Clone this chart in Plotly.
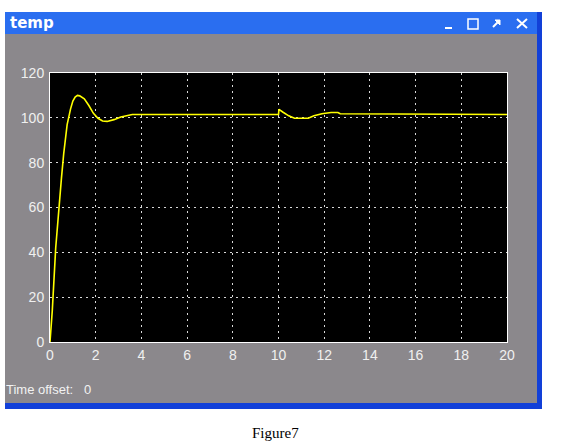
import plotly.graph_objects as go

# ---- data ----
time_s = [0, 0.1, 0.25, 0.4, 0.5, 0.6, 0.75, 0.9, 1.0, 1.1, 1.2, 1.3, 1.5, 1.7, 1.9,
          2.1, 2.3, 2.5, 2.8, 3.1, 3.4, 3.6, 10.0, 10.02, 10.2, 10.45, 10.7, 11.3,
          11.55, 11.9, 12.3, 12.6, 12.7, 13.6, 13.65, 20]
temp = [0, 14, 42, 62, 73, 84, 97, 104, 107.5, 109.3, 110, 109.8, 108.5, 105.5, 102,
        99.8, 98.6, 98.4, 99.2, 100.4, 101.2, 101.5, 101.5, 103.8, 102.5, 100.9, 99.8, 99.8,
        100.9, 101.8, 102.4, 102.4, 101.8, 101.8, 101.5, 101.5]
x_ticks = [0, 2, 4, 6, 8, 10, 12, 14, 16, 18, 20]
y_ticks = [0, 20, 40, 60, 80, 100, 120]
window_title = "temp"
offset_label = "Time offset:&nbsp;&nbsp;&nbsp;0"
caption = "Figure7"

W, H = 564, 447
L, R, T, B = 50, 57, 73, 105
PW, PH = W - L - R, H - T - B


def X(px):
    return (px - L) / PW


def Y(py):
    return (H - B - py) / PH


fig = go.Figure()
fig.add_trace(go.Scatter(x=time_s, y=temp, mode="lines",
                         line=dict(color="#ffff00", width=1.6), hoverinfo="skip"))

shapes = []
# window body (gray) and borders
shapes.append(dict(type="rect", xref="paper", yref="paper", x0=X(5), x1=X(542), y0=Y(409), y1=Y(12),
                   fillcolor="#1240d8", line_width=0, layer="below"))
shapes.append(dict(type="rect", xref="paper", yref="paper", x0=X(5), x1=X(537), y0=Y(403), y1=Y(34),
                   fillcolor="#8b888c", line_width=0, layer="below"))
# title bar
shapes.append(dict(type="rect", xref="paper", yref="paper", x0=X(5), x1=X(537), y0=Y(34), y1=Y(12),
                   fillcolor="#2a6ef0", line_width=0, layer="below"))
# plot area
shapes.append(dict(type="rect", xref="paper", yref="paper", x0=0, x1=1, y0=0, y1=1,
                   fillcolor="#000000", line_width=0, layer="below"))
# title-bar buttons
shapes.append(dict(type="rect", xref="paper", yref="paper", x0=X(445), x1=X(452), y0=Y(29), y1=Y(27),
                   fillcolor="white", line_width=0))
shapes.append(dict(type="rect", xref="paper", yref="paper", x0=X(468), x1=X(478), y0=Y(29), y1=Y(19),
                   fillcolor="rgba(0,0,0,0)", line=dict(color="white", width=1.5)))
shapes.append(dict(type="line", xref="paper", yref="paper", x0=X(493), x1=X(499), y0=Y(27), y1=Y(21),
                   line=dict(color="white", width=2)))
shapes.append(dict(type="path", xref="paper", yref="paper",
                   path=f"M {X(495)},{Y(20)} L {X(500)},{Y(20)} L {X(500)},{Y(25)} Z",
                   fillcolor="white", line=dict(color="white", width=1)))
shapes.append(dict(type="line", xref="paper", yref="paper", x0=X(517), x1=X(527), y0=Y(19), y1=Y(28),
                   line=dict(color="white", width=2)))
shapes.append(dict(type="line", xref="paper", yref="paper", x0=X(517), x1=X(527), y0=Y(28), y1=Y(19),
                   line=dict(color="white", width=2)))

annotations = [
    dict(text=f"<b>{window_title}</b>", xref="paper", yref="paper", x=X(8), y=Y(23),
         xanchor="left", yanchor="middle", showarrow=False,
         font=dict(family="DejaVu Sans", size=15, color="white")),
    dict(text=offset_label, xref="paper", yref="paper", x=X(4), y=Y(389),
         xanchor="left", yanchor="middle", showarrow=False,
         font=dict(family="Liberation Sans", size=13, color="#f2f2f2")),
    dict(text=caption, xref="paper", yref="paper", x=X(275), y=Y(433),
         xanchor="center", yanchor="middle", showarrow=False,
         font=dict(family="Liberation Serif", size=15, color="black")),
]

axis_common = dict(showgrid=True, gridcolor="#d8d8d8", griddash="2px,4px", gridwidth=1,
                   showline=True, linecolor="white", linewidth=1, mirror=True,
                   zeroline=False, ticks="",
                   tickfont=dict(family="Liberation Sans", size=14, color="#f0f0f0"))

fig.update_layout(
    width=W, height=H, autosize=False,
    margin=dict(l=L, r=R, t=T, b=B),
    paper_bgcolor="white", plot_bgcolor="rgba(0,0,0,0)",
    showlegend=False,
    shapes=shapes, annotations=annotations,
    xaxis=dict(range=[0, 20], tickvals=x_ticks, ticktext=[str(v) for v in x_ticks], **axis_common),
    yaxis=dict(range=[0, 120], tickvals=y_ticks, ticktext=[str(v) for v in y_ticks],
               ticklabelstandoff=2, **axis_common),
)

fig.write_html("out.html", config={"displayModeBar": False},
               post_script="document.body.style.margin='0';")
